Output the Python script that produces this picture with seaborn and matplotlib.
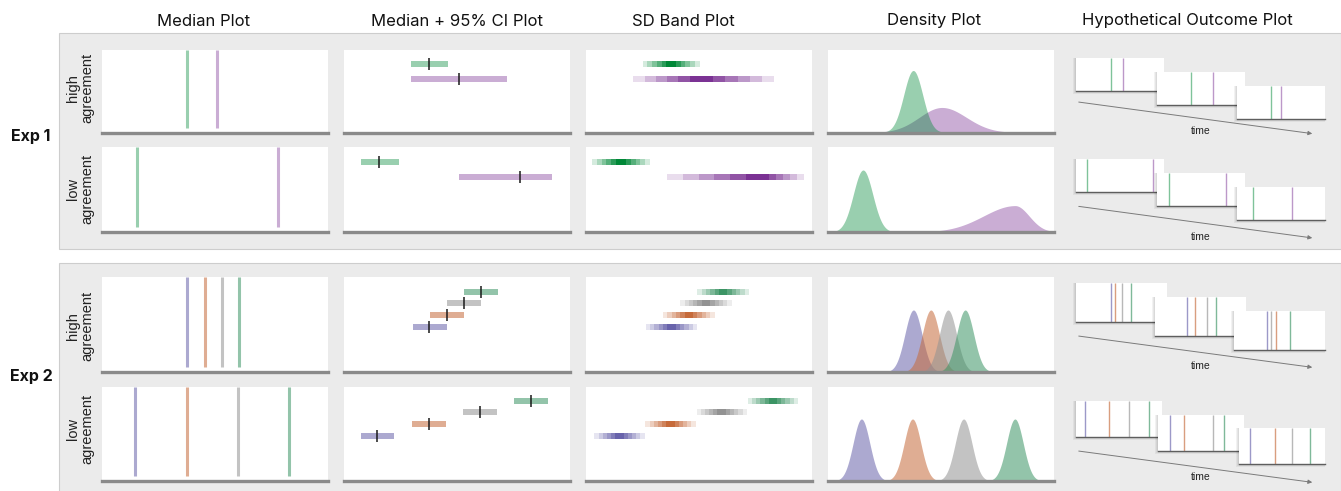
import numpy as np
import pandas as pd
import matplotlib
matplotlib.use("Agg")
import matplotlib.pyplot as plt
from matplotlib.patches import Rectangle, FancyArrowPatch
from matplotlib.colors import to_rgba
import seaborn as sns

sns.set_theme(style="white")
plt.rcParams["font.family"] = ["Inter", "DejaVu Sans"]

W, H, DPI = 1341, 491, 100

# ---------------------------------------------------------------- data
column_titles = ["Median Plot", "Median + 95% CI Plot", "SD Band Plot",
                 "Density Plot", "Hypothetical Outcome Plot"]
experiment_labels = ["Exp 1", "Exp 2"]
agreement_labels = ["high\nagreement", "low\nagreement"]

# Experiment 1: two conditions
exp1_series = ["purple", "green"]
exp1_colors = ["#7b3294", "#008837"]
exp1_alpha = 0.4

exp1_high_median = [0.509, 0.377]
exp1_high_ci_low = [0.298, 0.295]
exp1_high_ci_high = [0.722, 0.462]
exp1_high_sd_left = [0.100, 0.042]
exp1_high_sd_right = [0.108, 0.042]
exp1_high_hop = [[0.53, 0.40], [0.64, 0.39], [0.50, 0.386]]

exp1_low_median = [0.778, 0.155]
exp1_low_ci_low = [0.510, 0.075]
exp1_low_ci_high = [0.920, 0.244]
exp1_low_sd_left = [0.140, 0.043]
exp1_low_sd_right = [0.062, 0.043]
exp1_low_hop = [[0.88, 0.13], [0.79, 0.143], [0.625, 0.18]]

# Experiment 2: four conditions
exp2_series = ["purple", "orange", "gray", "green"]
exp2_colors = ["#6863ab", "#c66a3a", "#929292", "#3b9464"]
exp2_alpha = 0.55

exp2_high_median = [0.378, 0.455, 0.531, 0.607]
exp2_high_ci_low = [0.307, 0.382, 0.457, 0.532]
exp2_high_ci_high = [0.454, 0.530, 0.605, 0.680]
exp2_high_sd = [0.038, 0.038, 0.038, 0.038]
exp2_high_hop = [[0.38, 0.43, 0.51, 0.60],
                 [0.356, 0.44, 0.57, 0.665],
                 [0.364, 0.463, 0.404, 0.617]]

exp2_low_median = [0.148, 0.374, 0.600, 0.827]
exp2_low_ci_low = [0.075, 0.302, 0.527, 0.752]
exp2_low_ci_high = [0.222, 0.450, 0.676, 0.903]
exp2_low_sd = [0.037, 0.037, 0.037, 0.037]
exp2_low_hop = [[0.11, 0.38, 0.62, 0.85],
                [0.14, 0.31, 0.64, 0.77],
                [0.124, 0.42, 0.62, 0.82]]

rows = [
    dict(series=exp1_series, colors=exp1_colors, alpha=exp1_alpha,
         median=exp1_high_median, ci_low=exp1_high_ci_low, ci_high=exp1_high_ci_high,
         sd_left=exp1_high_sd_left, sd_right=exp1_high_sd_right, hop=exp1_high_hop),
    dict(series=exp1_series, colors=exp1_colors, alpha=exp1_alpha,
         median=exp1_low_median, ci_low=exp1_low_ci_low, ci_high=exp1_low_ci_high,
         sd_left=exp1_low_sd_left, sd_right=exp1_low_sd_right, hop=exp1_low_hop),
    dict(series=exp2_series, colors=exp2_colors, alpha=exp2_alpha,
         median=exp2_high_median, ci_low=exp2_high_ci_low, ci_high=exp2_high_ci_high,
         sd_left=exp2_high_sd, sd_right=exp2_high_sd, hop=exp2_high_hop),
    dict(series=exp2_series, colors=exp2_colors, alpha=exp2_alpha,
         median=exp2_low_median, ci_low=exp2_low_ci_low, ci_high=exp2_low_ci_high,
         sd_left=exp2_low_sd, sd_right=exp2_low_sd, hop=exp2_low_hop),
]

# ---------------------------------------------------------------- layout (pixels)
col_left = [102, 344, 586, 828]
col_width = 226
title_x = [204, 457, 683.5, 934.5, 1187]
title_y = 21
row_top = [50, 147, 277, 387]
row_axis = [132.5, 232, 372, 481]
row_label_y = [88, 188.5, 326, 429]
exp_label_y = [137, 377]
panel_spans = [(33, 249), (263, 496)]
slot_offset = [13.5, 14.5, 14.5, 13.7]
slot_spacing = [15.2, 15.0, 11.7, 11.7]
bar_px = 6
tick_px = 12
density_peak_px = 62
hop_left, hop_right = 1076, 1325
hop_frames = [(58.3, 88, 32.4, 14.0), (159.3, 88, 33.0, 14.0),
              (282.7, 91, 39.0, 14.0), (400.7, 86, 36.0, 13.8)]
hop_arrow_y = [(101.7, 134.0), (206.0, 238.3), (335.7, 367.7), (450.7, 482.7)]
hop_arrow_x = (1076, 1315)
hop_time = [(1201, 130.7), (1201, 237.3), (1201, 365.7), (1201, 477.3)]

AXIS_GRAY = "#8a8a8a"
TEXT = "#111111"

fig = plt.figure(figsize=(W / DPI, H / DPI), dpi=DPI)
fig.patch.set_facecolor("white")


def fx(x):
    return x / W


def fy(y):
    return 1 - y / H


def px_axes(left, top, right, bottom, zorder=0):
    return fig.add_axes([fx(left), fy(bottom), (right - left) / W, (bottom - top) / H],
                        zorder=zorder)


def style_panel(ax):
    ax.set_facecolor("white")
    ax.set_xlim(0, 1)
    ax.set_xticks([])
    ax.set_yticks([])
    for side in ("top", "left", "right"):
        ax.spines[side].set_visible(False)
    ax.spines["bottom"].set_color(AXIS_GRAY)
    ax.spines["bottom"].set_linewidth(2.4)


def split_normal_pdf(x, mode, s_left, s_right):
    amp = np.sqrt(2 / np.pi) / (s_left + s_right)
    s = np.where(x < mode, s_left, s_right)
    return amp * np.exp(-0.5 * ((x - mode) / s) ** 2)


def mode_for_median(median, s_left, s_right):
    span = 8 * max(s_left, s_right)
    grid = np.linspace(-span, span, 20001)
    cdf = np.cumsum(split_normal_pdf(grid, 0.0, s_left, s_right))
    cdf /= cdf[-1]
    return median - np.interp(0.5, cdf, grid)


# grey experiment backgrounds
for top, bottom in panel_spans:
    fig.add_artist(Rectangle((fx(59), fy(bottom)), (1340.5 - 59) / W, (bottom - top) / H,
                             transform=fig.transFigure, facecolor="#ebebeb",
                             edgecolor="#cdcdcd", linewidth=0.8, zorder=-5))

for x, title in zip(title_x, column_titles):
    fig.text(fx(x), fy(title_y), title, ha="center", va="center",
             fontsize=12, color=TEXT)

for y, lab in zip(exp_label_y, experiment_labels):
    fig.text(fx(31), fy(y), lab, ha="center", va="center", fontsize=11.5,
             fontweight="bold", color=TEXT)

z_edges = np.arange(-3.0, 3.0001, 0.5)
z_mid = 0.5 * (z_edges[:-1] + z_edges[1:])
step_alpha = 1 - (np.abs(z_mid) - 0.25) / 3
xs = np.linspace(0, 1, 1201)

for r, row in enumerate(rows):
    top, axis_y = row_top[r], row_axis[r]
    hpx = axis_y - top
    n = len(row["series"])
    fig.text(fx(80), fy(row_label_y[r]), agreement_labels[r % 2], rotation=90,
             ha="center", va="center", multialignment="center", fontsize=10.5,
             linespacing=1.0, color="#222222", family=["Liberation Sans", "DejaVu Sans"])

    # --- median plot
    ax = px_axes(col_left[0], top, col_left[0] + col_width, axis_y)
    style_panel(ax)
    for c, m in zip(row["colors"], row["median"]):
        ax.axvline(m, ymin=5 / hpx, ymax=1, color=c, alpha=row["alpha"], lw=2.2,
                   solid_capstyle="butt")

    # slot geometry shared by the CI and SD band panels
    off, sp = slot_offset[r], slot_spacing[r]
    ylim = ((hpx - off) / sp, -off / sp)

    # --- median + 95% CI plot
    ax = px_axes(col_left[1], top, col_left[1] + col_width, axis_y)
    style_panel(ax)
    ax.set_ylim(*ylim)
    for i, (c, m, lo, hi) in enumerate(zip(row["colors"], row["median"],
                                           row["ci_low"], row["ci_high"])):
        slot = n - 1 - i
        ax.barh(slot, hi - lo, left=lo, height=bar_px / sp, color=c,
                alpha=row["alpha"], linewidth=0)
        ax.vlines(m, slot - tick_px / 2 / sp, slot + tick_px / 2 / sp,
                  color="#1a1a1a", lw=1.1)

    # --- SD band plot
    ax = px_axes(col_left[2], top, col_left[2] + col_width, axis_y)
    style_panel(ax)
    ax.set_ylim(*ylim)
    for i, (c, m, sl, sr) in enumerate(zip(row["colors"], row["median"],
                                           row["sd_left"], row["sd_right"])):
        slot = n - 1 - i
        edges = m + np.where(z_edges < 0, z_edges * sl, z_edges * sr)
        for j in range(len(z_mid)):
            ax.barh(slot, edges[j + 1] - edges[j], left=edges[j], height=bar_px / sp,
                    color=to_rgba(c, step_alpha[j]), linewidth=0, antialiased=False)

    # --- density plot
    ax = px_axes(col_left[3], top, col_left[3] + col_width, axis_y)
    style_panel(ax)
    peak = 0.0
    for c, m, sl, sr in zip(row["colors"], row["median"], row["sd_left"], row["sd_right"]):
        mode = mode_for_median(m, sl, sr)
        pdf = split_normal_pdf(xs, mode, sl, sr)
        peak = max(peak, pdf.max())
        ax.fill_between(xs, 0, pdf, color=c, alpha=row["alpha"], linewidth=0)
    ax.set_ylim(0, peak * hpx / density_peak_px)

    # --- hypothetical outcome frames
    ftop, fw, fh, fdy = hop_frames[r]
    last_left = hop_right - fw
    lefts = [hop_left, (hop_left + last_left) / 2, last_left]
    palette = dict(zip(row["series"], row["colors"]))
    for k, draws in enumerate(row["hop"]):
        left = lefts[k]
        t = ftop + k * fdy
        for g in (3, 2, 1):
            fig.add_artist(Rectangle((fx(left - g), fy(t + fh + g)), (fw + g) / W,
                                     (fh + g) / H, transform=fig.transFigure,
                                     facecolor="black", alpha=0.05, linewidth=0,
                                     zorder=2 + 2 * k))
        fax = px_axes(left, t, left + fw, t + fh, zorder=3 + 2 * k)
        fax.set_facecolor("white")
        df = pd.DataFrame({"value": draws, "series": row["series"]})
        sns.rugplot(data=df, x="value", hue="series", palette=palette, height=1,
                    lw=1.1, alpha=row["alpha"] + 0.1, legend=False,
                    expand_margins=False, ax=fax)
        fax.set_xlim(0, 1)
        fax.set_ylim(0, 1)
        fax.set_xticks([])
        fax.set_yticks([])
        fax.set_xlabel("")
        fax.set_ylabel("")
        for side in ("top", "left", "right"):
            fax.spines[side].set_visible(False)
        fax.spines["bottom"].set_color("#5e5e5e")
        fax.spines["bottom"].set_linewidth(1.0)

    y0, y1 = hop_arrow_y[r]
    fig.add_artist(FancyArrowPatch((fx(hop_arrow_x[0]), fy(y0)), (fx(hop_arrow_x[1]), fy(y1)),
                                   transform=fig.transFigure, arrowstyle="-|>",
                                   mutation_scale=6, color="#7a7a7a", lw=0.7, zorder=1))
    tx, ty = hop_time[r]
    fig.text(fx(tx), fy(ty), "time", ha="center", va="center", fontsize=7.5,
             color="#222222", family=["Liberation Sans", "DejaVu Sans"])

fig.savefig("out.png", dpi=DPI, facecolor="white")
